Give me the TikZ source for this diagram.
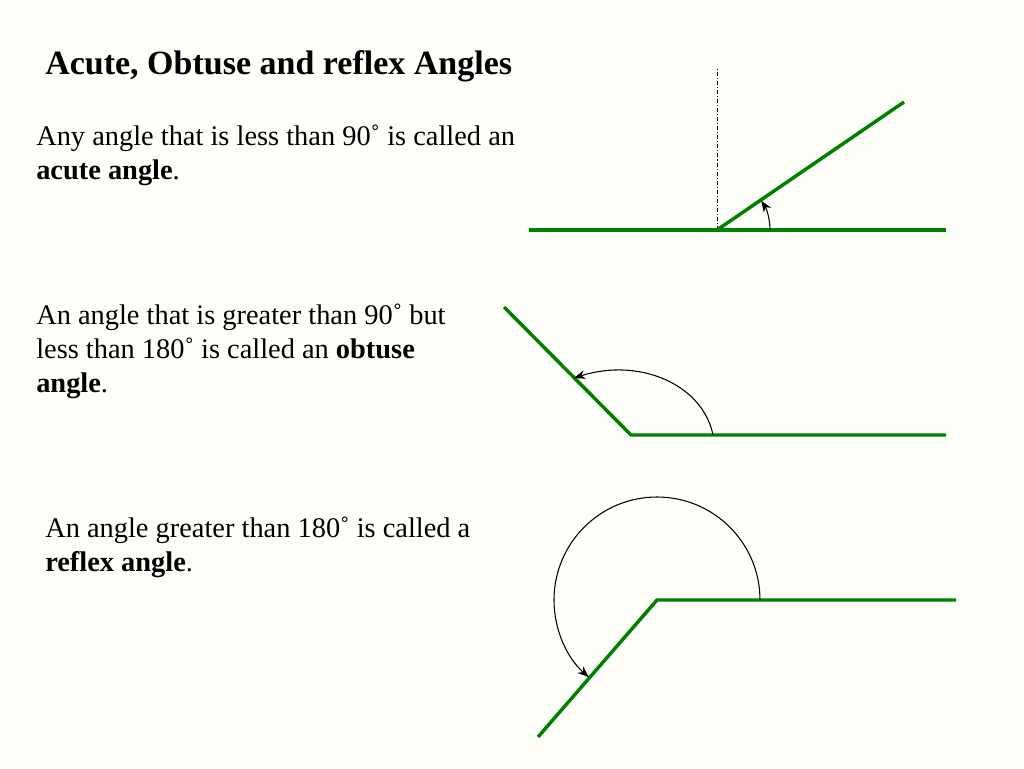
\documentclass[tikz,border=0pt]{standalone}
\usepackage{fontspec}
\setmainfont{Liberation Serif}
\usetikzlibrary{arrows.meta}
\definecolor{bgcol}{RGB}{254,254,248}
\definecolor{linegreen}{RGB}{0,128,0}
\tikzset{
  ray/.style={draw=linegreen, line width=2.6pt},
  anglearc/.style={draw=black, line width=0.8pt, -{Stealth[length=8.5pt,width=6.5pt]}},
  guide/.style={draw=black, line width=0.7pt, dash pattern=on 3pt off 1.5pt on 0.8pt off 1.5pt},
  titletext/.style={anchor=base west, inner sep=0pt, font=\fontsize{25.5pt}{30pt}\selectfont\bfseries},
  bodytext/.style={anchor=base west, inner sep=0pt, font=\fontsize{21.3pt}{25pt}\selectfont},
}
\newcommand{\dg}{\char"02DA}
\begin{document}
\begin{tikzpicture}[x=0.75pt,y=0.75pt]
\fill[bgcol] (0,0) rectangle (1024,-768);
\useasboundingbox (0,0) rectangle (1024,-768);
% texts
\node[titletext] (title) at (45,-74) {Acute, Obtuse and reflex Angles};
\node[bodytext] (a1) at (36,-145) {Any angle that is less than 90\dg{} is called an};
\node[bodytext] (a2) at (36,-179) {\textbf{acute angle}.};
\node[bodytext] (o1) at (36,-324) {An angle that is greater than 90\dg{} but};
\node[bodytext] (o2) at (36,-358) {less than 180\dg{} is called an \textbf{obtuse}};
\node[bodytext] (o3) at (36,-392) {\textbf{angle}.};
\node[bodytext] (r1) at (45,-537) {An angle greater than 180\dg{} is called a};
\node[bodytext] (r2) at (45,-571) {\textbf{reflex angle}.};
% acute
\coordinate (av) at (717,-230);
\coordinate (al) at (529,-230);
\coordinate (ar) at (946,-230);
\coordinate (at) at (904,-102);
\coordinate (ag) at (717,-68);
\coordinate (as) at (770,-230);
\draw[guide] (av) -- (ag);
\draw[ray] (al) -- (ar);
\draw[ray] (av) -- (at);
\draw[anglearc] (as) arc[start angle=0, end angle=33.5, radius=53];
% obtuse
\coordinate (ov) at (631,-435);
\coordinate (or) at (946,-435);
\coordinate (ot) at (504,-307);
\coordinate (os) at (713,-435);
\coordinate (oe) at (574,-378);
\draw[ray] (ot) -- (ov) -- (or);
\draw[anglearc] (os) .. controls (703,-385) and (640,-357) .. (oe);
% reflex
\coordinate (rv) at (657,-600);
\coordinate (rr) at (956,-600);
\coordinate (rt) at (538,-737);
\coordinate (rs) at (760,-600);
\draw[ray] (rt) -- (rv) -- (rr);
\draw[anglearc] (rs) arc[start angle=0, end angle=228.5, radius=103];
\end{tikzpicture}
\end{document}
